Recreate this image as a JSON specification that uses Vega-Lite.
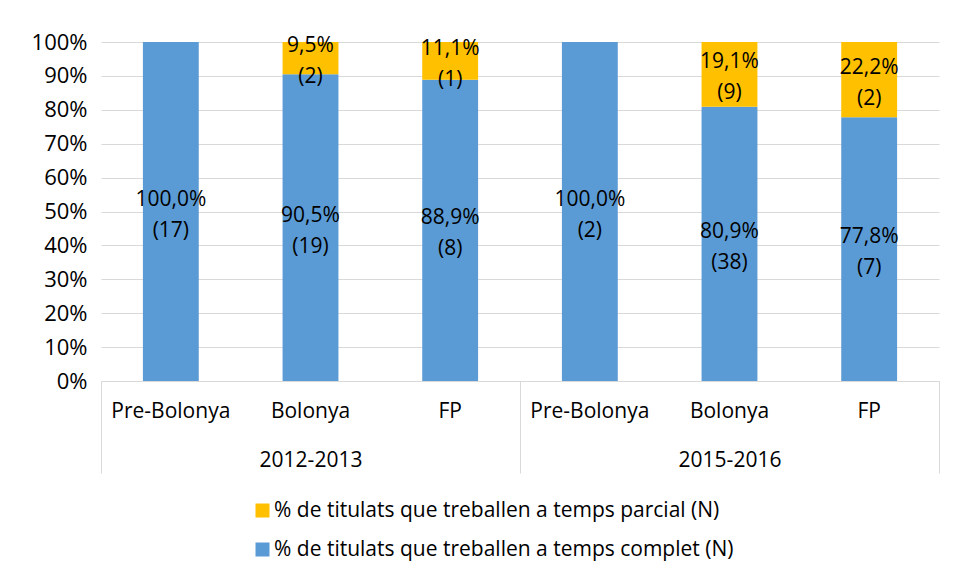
{
  "$schema": "https://vega.github.io/schema/vega-lite/v6.json",
  "width": 838,
  "height": 339,
  "autosize": "none",
  "padding": {"left": 101, "top": 42, "right": 16, "bottom": 200},
  "config": {
    "font": "Open Sans",
    "view": {"stroke": null},
    "axis": {"labelColor": "#000000", "labelFontSize": 21, "labelFont": "Open Sans"},
    "legend": {"labelColor": "#000000", "labelFont": "Open Sans"}
  },
  "data": {
    "values": [
      {"year": "2012-2013", "cat": "Pre-Bolonya", "type": "% de titulats que treballen a temps complet (N)", "ord": 1, "pct": 100, "n": 17},
      {"year": "2012-2013", "cat": "Bolonya", "type": "% de titulats que treballen a temps complet (N)", "ord": 1, "pct": 90.5, "n": 19},
      {"year": "2012-2013", "cat": "Bolonya", "type": "% de titulats que treballen a temps parcial (N)", "ord": 2, "pct": 9.5, "n": 2},
      {"year": "2012-2013", "cat": "FP", "type": "% de titulats que treballen a temps complet (N)", "ord": 1, "pct": 88.9, "n": 8},
      {"year": "2012-2013", "cat": "FP", "type": "% de titulats que treballen a temps parcial (N)", "ord": 2, "pct": 11.1, "n": 1},
      {"year": "2015-2016", "cat": "Pre-Bolonya", "type": "% de titulats que treballen a temps complet (N)", "ord": 1, "pct": 100, "n": 2},
      {"year": "2015-2016", "cat": "Bolonya", "type": "% de titulats que treballen a temps complet (N)", "ord": 1, "pct": 80.9, "n": 38},
      {"year": "2015-2016", "cat": "Bolonya", "type": "% de titulats que treballen a temps parcial (N)", "ord": 2, "pct": 19.1, "n": 9},
      {"year": "2015-2016", "cat": "FP", "type": "% de titulats que treballen a temps complet (N)", "ord": 1, "pct": 77.8, "n": 7},
      {"year": "2015-2016", "cat": "FP", "type": "% de titulats que treballen a temps parcial (N)", "ord": 2, "pct": 22.2, "n": 2}
    ]
  },
  "transform": [{"calculate": "datum.year + '|' + datum.cat", "as": "key"}],
  "layer": [
    {
      "layer": [
        {
          "mark": {"type": "bar"},
          "encoding": {
            "x": {
              "field": "key", "type": "nominal", "sort": null,
              "scale": {"paddingInner": 0.6, "paddingOuter": 0.3},
              "axis": {"title": null, "orient": "bottom", "labelExpr": "split(datum.label, '|')[1]", "ticks": false, "domainColor": "#d9d9d9", "labelPadding": 19, "labelAngle": 0}
            },
            "y": {
              "field": "pct", "type": "quantitative", "stack": "zero",
              "scale": {"domain": [0, 100], "nice": false},
              "axis": {"title": null, "tickCount": 10, "labelExpr": "datum.value + '%'", "labelFontSize": 22, "domain": false, "ticks": false, "gridColor": "#d9d9d9", "labelPadding": 14}
            },
            "color": {
              "field": "type", "type": "nominal",
              "scale": {"domain": ["% de titulats que treballen a temps parcial (N)", "% de titulats que treballen a temps complet (N)"], "range": ["#FFC000", "#5B9BD5"]},
              "legend": {"orient": "none", "legendX": 151, "legendY": 458, "direction": "vertical", "title": null, "symbolType": "square", "symbolSize": 196, "symbolStrokeWidth": 0, "labelFontSize": 21, "rowPadding": 17, "labelOffset": 1, "labelLimit": 0}
            },
            "order": {"field": "ord", "type": "quantitative"}
          }
        },
        {
          "transform": [
            {"stack": "pct", "groupby": ["key"], "sort": [{"field": "ord"}], "as": ["y0", "y1"]},
            {"calculate": "(datum.y0 + datum.y1) / 2", "as": "mid"},
            {"calculate": "[replace(format(datum.pct / 100, '.1%'), '.', ','), '(' + datum.n + ')']", "as": "lbl"}
          ],
          "mark": {"type": "text", "fontSize": 21, "lineHeight": 31, "color": "#000000", "baseline": "middle", "dy": -12},
          "encoding": {
            "x": {"field": "key", "type": "nominal", "sort": null},
            "y": {"field": "mid", "type": "quantitative"},
            "text": {"field": "lbl"}
          }
        }
      ]
    },
    {
      "mark": {"type": "text", "opacity": 0},
      "encoding": {
        "x": {
          "field": "year", "type": "nominal", "sort": null,
          "scale": {"paddingInner": 0, "paddingOuter": 0},
          "axis": {"title": null, "orient": "bottom", "tickBand": "extent", "tickSize": 92, "tickColor": "#d9d9d9", "domain": false, "labelPadding": -24, "labelAngle": 0}
        },
        "text": {"value": ""}
      }
    }
  ],
  "resolve": {"scale": {"x": "independent"}, "axis": {"x": "independent"}}
}
